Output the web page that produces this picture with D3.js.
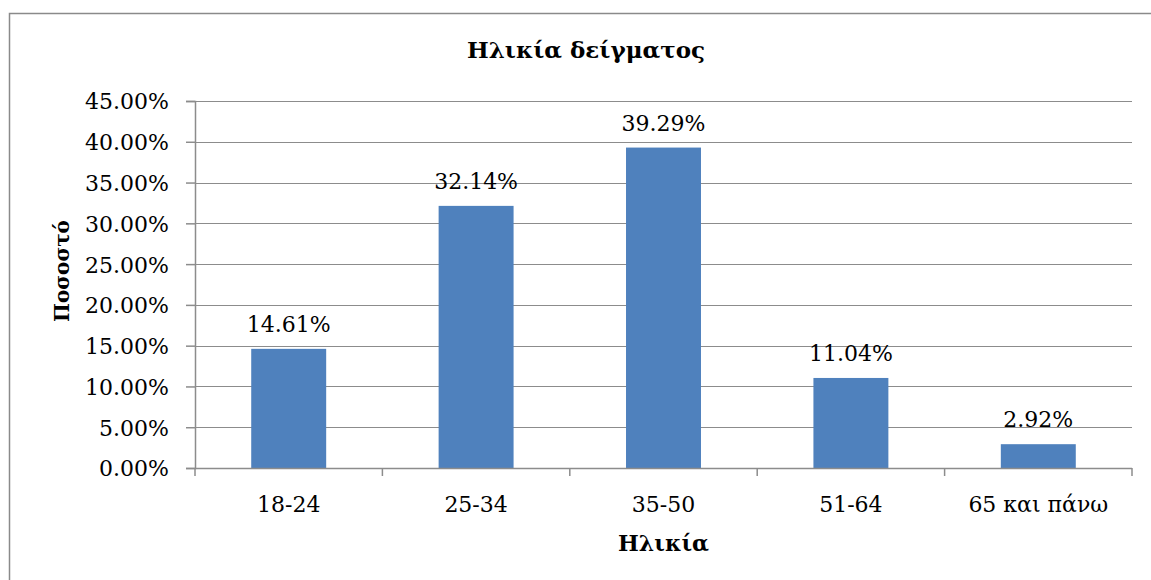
<!DOCTYPE html>
<html>
<head>
<meta charset="utf-8">
<script src="https://cdn.jsdelivr.net/npm/d3@7"></script>
<style>
  body { margin: 0; background: #fff; }
  text { font-family: "DejaVu Serif", serif; fill: #000; }
</style>
</head>
<body>
<svg id="chart" width="1151" height="580"></svg>
<script>
// data
const categories = ["18-24", "25-34", "35-50", "51-64", "65 και πάνω"];
const values = [14.61, 32.14, 39.29, 11.04, 2.92];
const yTicks = [0, 5, 10, 15, 20, 25, 30, 35, 40, 45];

const title = "Ηλικία δείγματος";
const xTitle = "Ηλικία";
const yTitle = "Ποσοστό";

var margin = {top: 101, right: 19, bottom: 112, left: 195}
var W = 1151, H = 580;

const svg = d3.select('#chart');

// outer frame of the chart (only top and left edge are in view)
svg.append('path')
    .attr('d', `M9.5,${H} L9.5,13.5 L${W},13.5`)
    .attr('fill', 'none')
    .attr('stroke', '#8a8a8a')
    .attr('stroke-width', 1.5);

var x = d3.scaleBand()
    .domain(categories)
    .range([margin.left, W - margin.right])
    .paddingInner(0.6)
    .paddingOuter(0.3);

var y = d3.scaleLinear()
    .domain([0, 45])
    .range([H - margin.bottom, margin.top]);

// gridlines
svg.append('g').classed('grid', true)
    .selectAll('line')
    .data(yTicks.slice(1))
    .join('line')
    .attr('x1', margin.left)
    .attr('x2', W - margin.right)
    .attr('y1', d => Math.round(y(d)) + 0.5)
    .attr('y2', d => Math.round(y(d)) + 0.5)
    .attr('stroke', '#8c8c8c')
    .attr('stroke-width', 1.2);

// bars
svg.append('g').classed('bars', true)
    .attr('fill', '#4f81bd')
    .selectAll('rect')
    .data(values)
    .join('rect')
    .attr('x', (d, i) => x(categories[i]))
    .attr('width', x.bandwidth())
    .attr('y', d => y(d))
    .attr('height', d => y(0) - y(d));

// value labels
svg.append('g').classed('labels', true)
    .selectAll('text')
    .data(values)
    .join('text')
    .attr('x', (d, i) => x(categories[i]) + x.bandwidth() / 2)
    .attr('y', d => y(d) - 17)
    .attr('text-anchor', 'middle')
    .style('font-size', '22px')
    .text(d => d.toFixed(2) + '%');

// y axis
var yAxis = svg.append('g').classed('y-axis', true)
    .attr('transform', `translate(${margin.left},0)`)
    .call(d3.axisLeft(y).tickValues(yTicks).tickSize(9).tickPadding(17)
        .tickFormat(d => d.toFixed(2) + '%'));
yAxis.selectAll('text').style('font-size', '22px').attr('dy', '0.36em');

// x axis, ticks sit on the category boundaries
var bounds = d3.range(categories.length + 1)
    .map(i => margin.left + i * x.step());
var xAxis = svg.append('g').classed('x-axis', true);
xAxis.append('line')
    .attr('x1', margin.left).attr('x2', W - margin.right)
    .attr('y1', y(0) + 0.5).attr('y2', y(0) + 0.5);
xAxis.selectAll('.tick')
    .data(bounds)
    .join('line')
    .attr('x1', d => d).attr('x2', d => d)
    .attr('y1', y(0)).attr('y2', y(0) + 8);
xAxis.selectAll('text')
    .data(categories)
    .join('text')
    .attr('x', d => x(d) + x.bandwidth() / 2)
    .attr('y', y(0) + 44)
    .attr('text-anchor', 'middle')
    .style('font-size', '22px')
    .text(d => d);

svg.selectAll('.y-axis path, .y-axis line, .x-axis line')
    .attr('stroke', '#8c8c8c')
    .attr('stroke-width', 1.5);

// titles
svg.append('text')
    .attr('x', 586)
    .attr('y', 58)
    .attr('text-anchor', 'middle')
    .style('font-size', '23px')
    .style('font-weight', 'bold')
    .text(title);

svg.append('text')
    .attr('x', (margin.left + W - margin.right) / 2)
    .attr('y', 551)
    .attr('text-anchor', 'middle')
    .style('font-size', '22px')
    .style('font-weight', 'bold')
    .text(xTitle);

svg.append('text')
    .attr('transform', 'translate(69,271) rotate(-90)')
    .attr('text-anchor', 'middle')
    .style('font-size', '20px')
    .style('font-weight', 'bold')
    .text(yTitle);
</script>
</body>
</html>
